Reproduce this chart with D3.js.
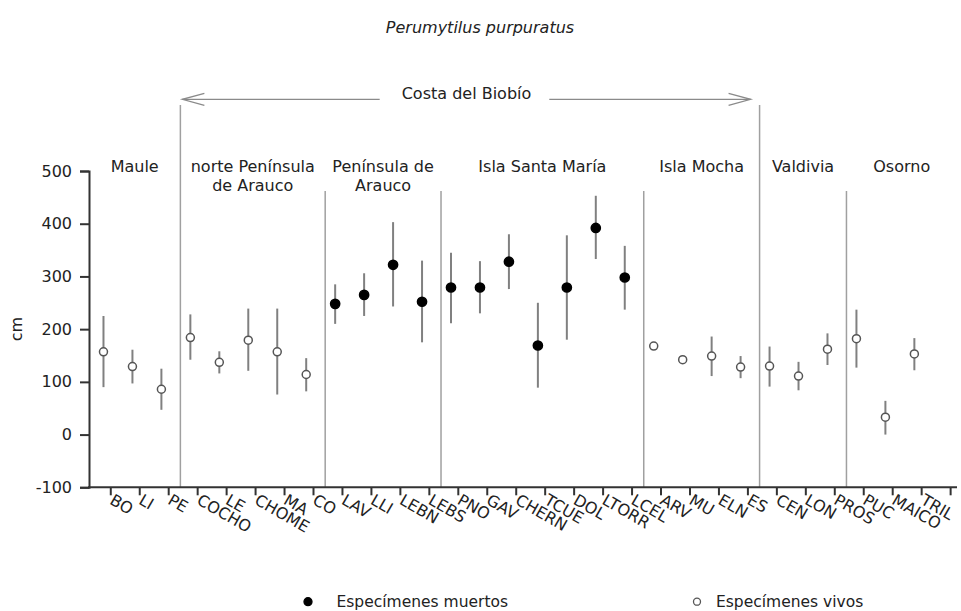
<!DOCTYPE html>
<html>
<head>
<meta charset="utf-8">
<script src="https://cdn.jsdelivr.net/npm/d3@7"></script>
<style>
  body { margin: 0; background: #fff; }
  text { font-family: "DejaVu Sans", Verdana, sans-serif; fill: #222; }
</style>
</head>
<body>
<svg id="chart" width="961" height="611"></svg>
<script>
// sites along the coast, north to south
var sites = ["BO","LI","PE","COCHO","LE","CHOME","MA","CO","LAV","LLI","LEBN","LEBS",
             "PNO","GAV","CHERN","TCUE","DOL","LTORR","LCEL","ARV","MU","ELN","ES",
             "CEN","LON","PROS","PUC","MAICO","TRIL"];
var mean = [157,129,86,184,137,179,157,114,248,265,322,252,
            279,279,328,169,279,392,298,168,142,149,128,
            130,111,162,182,33,153];
var low  = [90,97,47,142,116,121,76,82,210,225,243,175,
            211,230,276,89,180,333,237,null,null,111,107,
            91,84,132,127,0,122];
var high = [225,161,125,228,158,239,239,145,285,306,403,330,
            345,329,380,250,378,453,358,null,null,186,149,
            167,138,192,237,64,183];
var condition = ["vivo","vivo","vivo","vivo","vivo","vivo","vivo","vivo","muerto","muerto","muerto","muerto",
                 "muerto","muerto","muerto","muerto","muerto","muerto","muerto","vivo","vivo","vivo","vivo",
                 "vivo","vivo","vivo","vivo","vivo","vivo"];

var regionNames = [["Maule"],["norte Península","de Arauco"],["Península de","Arauco"],
                   ["Isla Santa María"],["Isla Mocha"],["Valdivia"],["Osorno"]];
var regionStart = ["BO","COCHO","LAV","PNO","ARV","CEN","PUC"];
var coastFrom = "COCHO", coastTo = "CEN";
var coastLabel = "Costa del Biobío";
var yTicks = [-100,0,100,200,300,400,500];
var legendItems = [["muerto","Especímenes muertos"],["vivo","Especímenes vivos"]];

var svg = d3.select("#chart");
var plotLeft = 89, axisEnd = 957, plotTop = 171, plotBottom = 487.3;

var x = d3.scaleBand().domain(sites).range([plotLeft, plotLeft + 29 * 28.96]);
var y = d3.scaleLinear().domain([-100, 500]).range([plotBottom, plotTop]);
var cx = function(s) { return x(s) + x.bandwidth() / 2; };
var tickShift = 7.3;
var sepX = function(s) { return x(s) + 4.5; };

// title
svg.append("text").attr("x", 480).attr("y", 33).attr("text-anchor", "middle")
  .style("font-style", "italic").style("font-size", "16px").text("Perumytilus purpuratus");

// region separators
regionStart.slice(1).forEach(function(s) {
  var coast = (s === coastFrom || s === coastTo);
  svg.append("line").attr("x1", sepX(s)).attr("x2", sepX(s))
    .attr("y1", coast ? 105 : 191).attr("y2", plotBottom)
    .attr("stroke", "#a0a0a0").attr("stroke-width", 1.5);
});

// coast arrow
var ax1 = sepX(coastFrom) + 2, ax2 = sepX(coastTo) - 9, ay = 99.3;
var mid = (ax1 + ax2) / 2;
var coastText = svg.append("text").attr("x", mid).attr("y", 99).attr("text-anchor", "middle")
  .style("font-size", "16px").text(coastLabel);
var tw = coastText.node().getComputedTextLength();
var arrow = svg.append("g").attr("stroke", "#8a8a8a").attr("stroke-width", 1.3).attr("fill", "none");
arrow.append("line").attr("x1", ax1).attr("x2", mid - tw / 2 - 22).attr("y1", ay).attr("y2", ay);
arrow.append("line").attr("x1", mid + tw / 2 + 18).attr("x2", ax2).attr("y1", ay).attr("y2", ay);
arrow.append("path").attr("d", "M" + (ax1 + 22) + "," + (ay - 6) + "L" + ax1 + "," + ay + "L" + (ax1 + 22) + "," + (ay + 6));
arrow.append("path").attr("d", "M" + (ax2 - 22) + "," + (ay - 6) + "L" + ax2 + "," + ay + "L" + (ax2 - 22) + "," + (ay + 6));

// region labels
regionStart.forEach(function(s, i) {
  var a = i === 0 ? plotLeft : sepX(s);
  var b = i === regionStart.length - 1 ? axisEnd : sepX(regionStart[i + 1]);
  var t = svg.append("text").attr("text-anchor", "middle").style("font-size", "16px");
  regionNames[i].forEach(function(line, j) {
    t.append("tspan").attr("x", (a + b) / 2).attr("y", 172 + j * 18.5).text(line);
  });
});

// y axis
var yAxis = svg.append("g").attr("transform", "translate(" + plotLeft + ",0)")
  .call(d3.axisLeft(y).tickValues(yTicks).tickSize(9).tickPadding(8)
    .tickFormat(function(d) { return String(d); }));
yAxis.selectAll("text").style("font-size", "16px").attr("fill", "#222");
yAxis.selectAll("line, path").attr("stroke", "#333").attr("stroke-width", 2);

svg.append("text").attr("transform", "translate(22," + y(200) + ") rotate(-90)")
  .attr("text-anchor", "middle").style("font-size", "16px").text("cm");

// x axis
var xAxis = svg.append("g").attr("transform", "translate(0," + plotBottom + ")")
  .call(d3.axisBottom(x).tickSize(8).tickSizeOuter(0));
xAxis.select(".domain").remove();
xAxis.selectAll(".tick").attr("transform", function(d) { return "translate(" + (cx(d) + tickShift) + ",0)"; });
xAxis.selectAll(".tick line").attr("stroke", "#333").attr("stroke-width", 2);
xAxis.selectAll(".tick text").attr("y", 0).attr("dy", 0)
  .attr("text-anchor", "start").style("font-size", "16px").attr("fill", "#222")
  .attr("transform", "translate(-2,16) rotate(30)");
// closing tick after the last site
var lastTick = cx(sites[sites.length - 1]) + x.step() + tickShift;
xAxis.append("line").attr("x1", lastTick).attr("x2", lastTick)
  .attr("y1", 0).attr("y2", 8).attr("stroke", "#333").attr("stroke-width", 2);
xAxis.append("line").attr("x1", plotLeft - 1).attr("x2", axisEnd).attr("y1", 0).attr("y2", 0)
  .attr("stroke", "#333").attr("stroke-width", 2);

// error bars and points
var data = sites.map(function(s, i) {
  return { site: s, mean: mean[i], low: low[i], high: high[i], cond: condition[i] };
});
svg.append("g").selectAll("line").data(data.filter(function(d) { return d.low !== null; }))
  .join("line")
  .attr("x1", function(d) { return cx(d.site); }).attr("x2", function(d) { return cx(d.site); })
  .attr("y1", function(d) { return y(d.low); }).attr("y2", function(d) { return y(d.high); })
  .attr("stroke", "#808080").attr("stroke-width", 2);
svg.append("g").selectAll("circle").data(data).join("circle")
  .attr("cx", function(d) { return cx(d.site); }).attr("cy", function(d) { return y(d.mean); })
  .attr("r", function(d) { return d.cond === "muerto" ? 4.6 : 4; })
  .attr("fill", function(d) { return d.cond === "muerto" ? "#000" : "#fff"; })
  .attr("stroke", function(d) { return d.cond === "muerto" ? "#000" : "#555"; })
  .attr("stroke-width", 1.5);

// legend
var legX = [308, 697];
legendItems.forEach(function(it, i) {
  var g = svg.append("g").attr("transform", "translate(" + legX[i] + ",601.7)");
  g.append("circle").attr("r", it[0] === "muerto" ? 4 : 3.5)
    .attr("fill", it[0] === "muerto" ? "#000" : "#fff")
    .attr("stroke", it[0] === "muerto" ? "#000" : "#555").attr("stroke-width", 1.3);
  g.append("text").attr("x", i === 0 ? 28.5 : 19).attr("y", 5.5).style("font-size", "15.5px").text(it[1]);
});
</script>
</body>
</html>
